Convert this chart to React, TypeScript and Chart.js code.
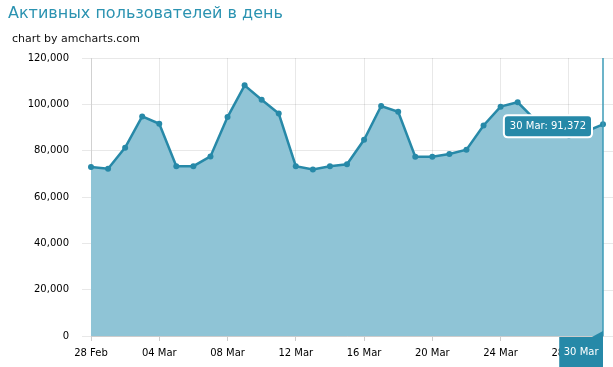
import React, { useEffect, useRef } from 'react';
import { Chart, registerables } from 'chart.js';

Chart.register(...registerables);

const TITLE = 'Активных пользователей в день';
const SUBTITLE = 'chart by amcharts.com';

const dates = [
  '28 Feb', '01 Mar', '02 Mar', '03 Mar', '04 Mar', '05 Mar', '06 Mar', '07 Mar',
  '08 Mar', '09 Mar', '10 Mar', '11 Mar', '12 Mar', '13 Mar', '14 Mar', '15 Mar',
  '16 Mar', '17 Mar', '18 Mar', '19 Mar', '20 Mar', '21 Mar', '22 Mar', '23 Mar',
  '24 Mar', '25 Mar', '26 Mar', '27 Mar', '28 Mar', '29 Mar', '30 Mar',
];

const users = [
  73000, 72200, 81300, 94800, 91600, 73300, 73300, 77500,
  94500, 108200, 102000, 96000, 73300, 71900, 73300, 74100,
  84700, 99300, 96800, 77400, 77400, 78600, 80400, 90900,
  99000, 100900, 93500, 88000, 86500, 88300, 91372,
];

const Y_MIN = 0;
const Y_MAX = 120000;
const Y_STEP = 20000;
const TICK_EVERY = 4;

const FONT = "'DejaVu Sans', Verdana, sans-serif";
const LINE = '#2789a8';
const FILL = '#8fc4d6';
const GRID = 'rgba(0,0,0,0.09)';
const BALLOON = '#2689a8';

const fmt = (v: number) => v.toLocaleString('en-US');

function roundRect(ctx: CanvasRenderingContext2D, x: number, y: number, w: number, h: number, r: number) {
  ctx.beginPath();
  ctx.moveTo(x + r, y);
  ctx.lineTo(x + w - r, y);
  ctx.quadraticCurveTo(x + w, y, x + w, y + r);
  ctx.lineTo(x + w, y + h - r);
  ctx.quadraticCurveTo(x + w, y + h, x + w - r, y + h);
  ctx.lineTo(x + r, y + h);
  ctx.quadraticCurveTo(x, y + h, x, y + h - r);
  ctx.lineTo(x, y + r);
  ctx.quadraticCurveTo(x, y, x + r, y);
  ctx.closePath();
}

const overlay = {
  id: 'overlay',
  afterDraw(chart: any) {
    const { ctx, chartArea, scales } = chart;
    const ys = scales.y;
    ctx.save();
    // extend horizontal grid to the right edge
    ctx.strokeStyle = GRID;
    ctx.lineWidth = 1;
    ys.ticks.forEach((t: any) => {
      const py = Math.round(ys.getPixelForValue(t.value)) + 0.5;
      ctx.beginPath();
      ctx.moveTo(chartArea.right, py);
      ctx.lineTo(chart.width, py);
      ctx.stroke();
    });

    const meta = chart.getDatasetMeta(0);
    const i = meta.data.length - 1;
    const pt = meta.data[i];
    const px = pt.x;
    const py = pt.y;

    // cursor line
    ctx.strokeStyle = '#3b9bb7';
    ctx.lineWidth = 1.5;
    ctx.beginPath();
    ctx.moveTo(px, chartArea.top);
    ctx.lineTo(px, chartArea.bottom);
    ctx.stroke();

    // value balloon
    ctx.font = `10px ${FONT}`;
    const text = `${dates[i]}: ${fmt(users[i])}`;
    const tw = ctx.measureText(text).width;
    const w = tw + 12;
    const h = 22;
    const bx = px - 11 - w;
    const by = py + 2 - h / 2;
    roundRect(ctx, bx, by, w, h, 4);
    ctx.fillStyle = BALLOON;
    ctx.fill();
    ctx.strokeStyle = '#ffffff';
    ctx.lineWidth = 2;
    ctx.stroke();
    ctx.fillStyle = '#ffffff';
    ctx.textAlign = 'center';
    ctx.textBaseline = 'middle';
    ctx.fillText(text, bx + w / 2, by + h / 2 + 0.5);

    // category balloon
    const ctext = dates[i];
    const ctw = ctx.measureText(ctext).width;
    const cw = ctw + 9;
    const cbx = px - cw;
    const cby = chartArea.bottom + 1;
    ctx.fillStyle = BALLOON;
    ctx.fillRect(cbx, cby, cw, chart.height - cby + 2);
    ctx.beginPath();
    ctx.moveTo(px - 12, cby + 0.5);
    ctx.lineTo(px, cby - 6);
    ctx.lineTo(px, cby + 0.5);
    ctx.closePath();
    ctx.fill();
    ctx.fillStyle = '#ffffff';
    ctx.fillText(ctext, cbx + cw / 2, cby + 15);
    ctx.restore();
  },
};

export default function App() {
  const ref = useRef<HTMLCanvasElement | null>(null);

  useEffect(() => {
    if (!ref.current) return;
    const chart = new Chart(ref.current, {
      type: 'line',
      data: {
        labels: dates,
        datasets: [
          {
            data: users,
            borderColor: LINE,
            backgroundColor: FILL,
            borderWidth: 2.5,
            fill: 'origin',
            tension: 0,
            pointRadius: 3,
            pointBackgroundColor: LINE,
            pointBorderColor: LINE,
            pointBorderWidth: 0,
          },
        ],
      },
      options: {
        animation: false,
        responsive: false,
        devicePixelRatio: 1,
        events: [],
        layout: { padding: { top: 58, right: 10, left: 0, bottom: 0 } },
        plugins: {
          legend: { display: false },
          tooltip: { enabled: false },
          title: { display: false },
        },
        scales: {
          x: {
            type: 'category',
            offset: false,
            z: 1,
            afterFit: (s: any) => {
              s.height = 31;
            },
            grid: {
              color: (c: any) => (c.index % TICK_EVERY === 0 ? GRID : 'rgba(0,0,0,0)'),
              tickColor: (c: any) => (c.index % TICK_EVERY === 0 ? 'rgba(0,0,0,0.2)' : 'rgba(0,0,0,0)'),
              tickLength: 5,
            },
            border: { color: 'rgba(0,0,0,0.12)' },
            ticks: {
              autoSkip: false,
              maxRotation: 0,
              minRotation: 0,
              padding: 6,
              color: '#000000',
              font: { family: FONT, size: 10 },
              callback: (_v: any, idx: number) => (idx % TICK_EVERY === 0 ? dates[idx] : ''),
            },
          },
          y: {
            min: Y_MIN,
            max: Y_MAX,
            z: 1,
            afterFit: (s: any) => {
              s.width = 91;
            },
            grid: {
              color: GRID,
              tickColor: GRID,
              tickLength: 9,
            },
            border: { color: 'rgba(0,0,0,0.1)' },
            ticks: {
              stepSize: Y_STEP,
              padding: 13,
              color: '#000000',
              font: { family: FONT, size: 10 },
              callback: (v: any) => fmt(Number(v)),
            },
          },
        },
      },
      plugins: [overlay],
    });
    return () => chart.destroy();
  }, []);

  return (
    <div style={{ position: 'fixed', left: 0, top: 0, width: 613, height: 367, background: '#fff', overflow: 'hidden' }}>
      <canvas ref={ref} width={613} height={367} style={{ position: 'absolute', left: 0, top: 0, width: 613, height: 367 }} />
      <div
        style={{
          position: 'absolute',
          left: 8,
          top: 5,
          fontFamily: FONT,
          fontSize: 16,
          lineHeight: '16px',
          color: '#2b93b1',
          whiteSpace: 'nowrap',
        }}
      >
        {TITLE}
      </div>
      <div
        style={{
          position: 'absolute',
          left: 12,
          top: 33,
          fontFamily: FONT,
          fontSize: 11,
          lineHeight: '11px',
          color: '#111111',
          whiteSpace: 'nowrap',
        }}
      >
        {SUBTITLE}
      </div>
    </div>
  );
}
